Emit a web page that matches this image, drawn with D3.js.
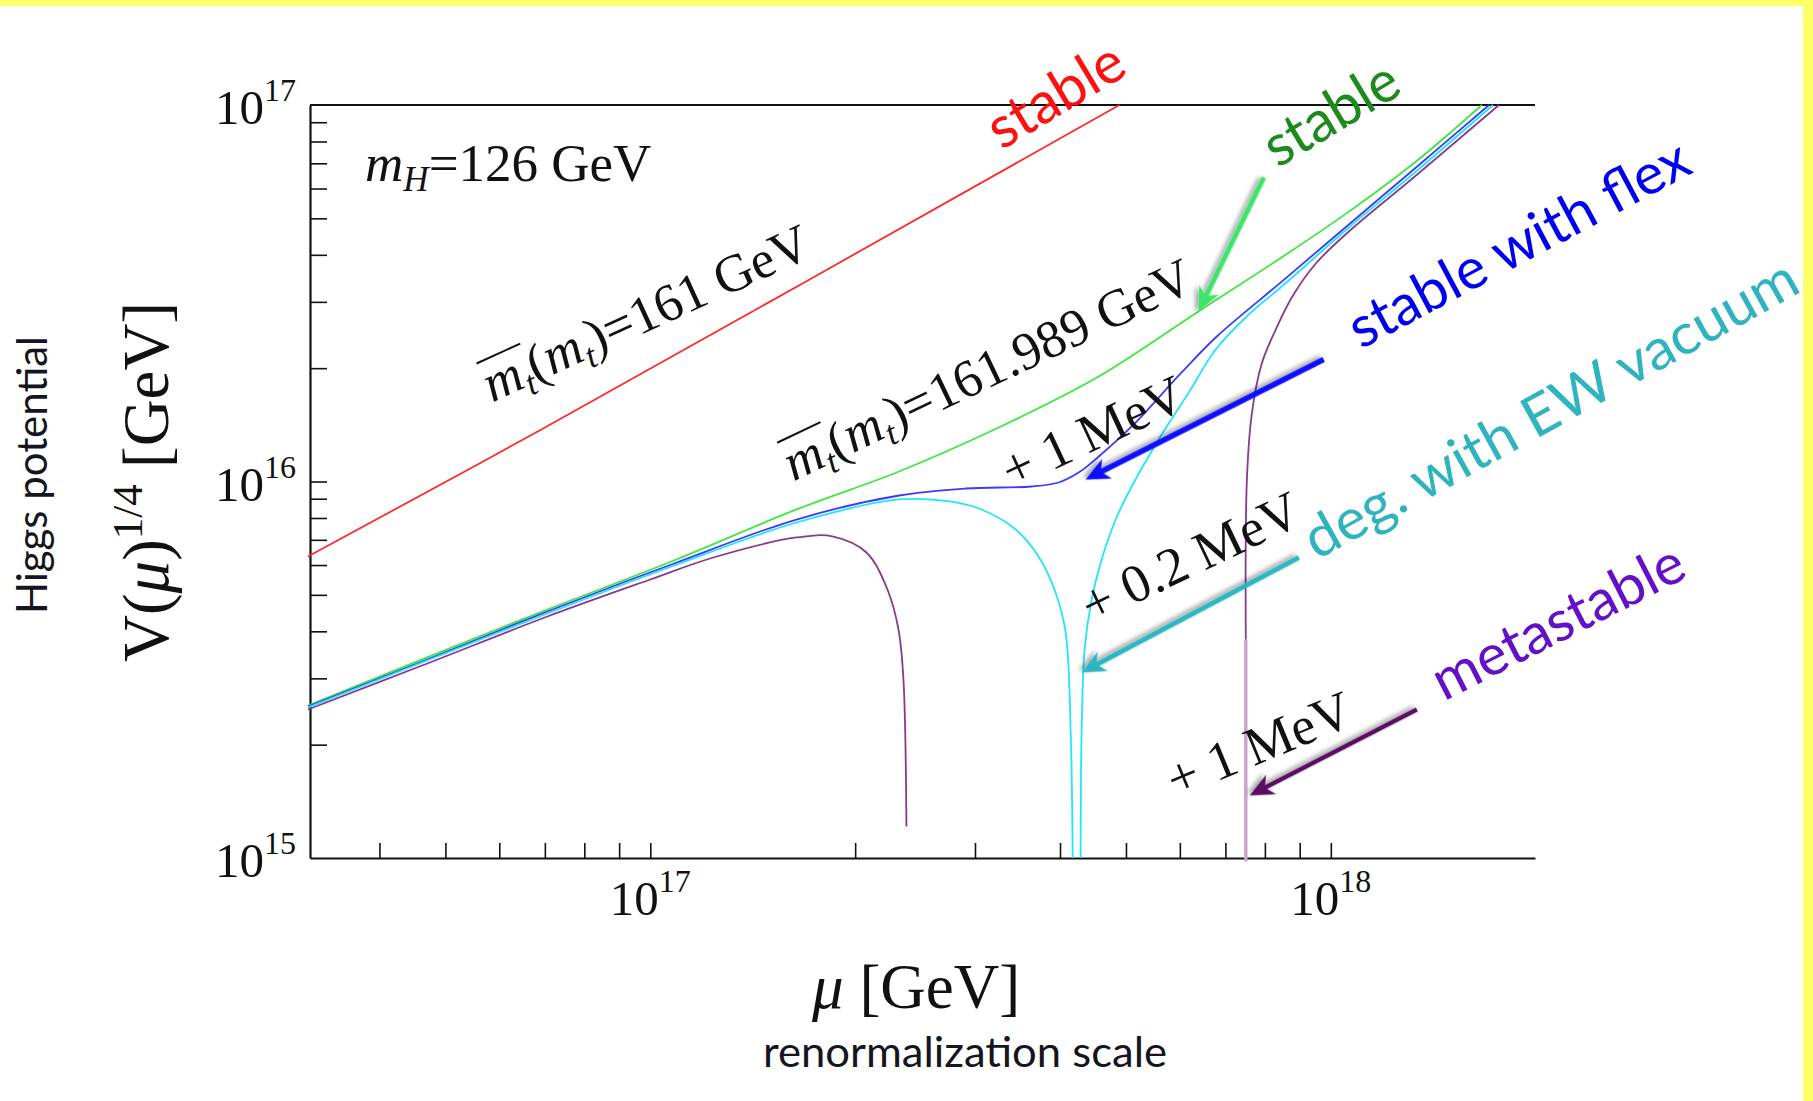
<!DOCTYPE html>
<html lang="en">
<head>
    <meta charset="UTF-8">
    <title>Higgs potential vs renormalization scale</title>
    <script src="https://d3js.org/d3.v7.min.js"></script>
    <style>
        body { margin: 0; background: #ffffff; }
        svg { display: block; }
    </style>
</head>
<body>
    <div id="myDiv"></div>
<script>
// ---- values: mu [GeV] and V(mu)^(1/4) [GeV] ----
const muTicks = [4e16, 5e16, 6e16, 7e16, 8e16, 9e16, 1e17, 2e17, 3e17, 4e17, 5e17, 6e17, 7e17, 8e17, 9e17, 1e18];
const muTickLabels = [1e17, 1e18];
const vTicks = [2e15, 3e15, 4e15, 5e15, 6e15, 7e15, 8e15, 9e15, 1e16,
                2e16, 3e16, 4e16, 5e16, 6e16, 7e16, 8e16, 9e16];
const vTickLabels = [1e15, 1e16, 1e17];

// mt = 161 GeV
const redMu = [3.14e16, 6.96e16, 4.89e17];
const redV  = [6.32e15, 1.383e16, 1.0e17];

// mt = 161.989 GeV
const greenMu = [3.14e16, 4.62e16, 7.06e16, 1.074e17, 1.64e17, 2.32e17, 3.25e17, 4.56e17, 6.39e17, 8.47e17, 1.063e18, 1.334e18, 1.667e18];
const greenV  = [2.54e15, 3.37e15, 4.57e15, 6.13e15, 8.43e15, 1.063e16, 1.391e16, 1.90e16, 2.83e16, 3.94e16, 5.21e16, 7.08e16, 1.0e17];

// + 1 MeV (flex)
const blueMu = [3.14e16, 4.62e16, 7.06e16, 1.074e17, 1.64e17, 2.32e17, 2.906e17, 3.634e17, 3.981e17, 4.26e17, 4.56e17, 5.098e17, 6.036e17, 6.774e17, 8.47e17, 1.063e18, 1.334e18, 1.708e18];
const blueV  = [2.526e15, 3.326e15, 4.516e15, 6.02e15, 7.925e15, 9.18e15, 9.58e15, 9.70e15, 9.94e15, 1.056e16, 1.165e16, 1.40e16, 1.948e16, 2.413e16, 3.396e16, 4.816e16, 6.823e16, 1.0e17];

// + 0.2 MeV (degenerate), two branches
const cyanLeftMu = [3.14e16, 4.62e16, 7.06e16, 1.074e17, 1.64e17, 2.32e17, 2.753e17, 3.068e17, 3.442e17, 3.72e17, 3.94e17, 4.077e17, 4.147e17, 4.175e17];
const cyanLeftV  = [2.51e15, 3.306e15, 4.46e15, 5.947e15, 7.782e15, 8.96e15, 8.85e15, 8.425e15, 7.457e15, 6.32e15, 5.072e15, 3.972e15, 2.154e15, 1.0e15];
const cyanRightMu = [4.289e17, 4.303e17, 4.347e17, 4.452e17, 4.605e17, 4.829e17, 5.098e17, 5.585e17, 6.183e17, 6.774e17, 7.575e17, 8.47e17, 1.063e18, 1.334e18, 1.731e18];
const cyanRightV  = [1.0e15, 2.154e15, 3.58e15, 4.86e15, 6.206e15, 7.925e15, 9.70e15, 1.293e16, 1.723e16, 2.242e16, 2.777e16, 3.295e16, 4.727e16, 6.66e16, 1.0e17];

// + 1 MeV (metastable), two branches
const purpleLeftMu = [3.14e16, 4.62e16, 7.06e16, 1.0e17, 1.238e17, 1.64e17, 1.858e17, 2.078e17, 2.231e17, 2.316e17, 2.355e17, 2.379e17];
const purpleLeftV  = [2.48e15, 3.245e15, 4.379e15, 5.492e15, 6.283e15, 7.101e15, 7.143e15, 6.478e15, 5.166e15, 4.045e15, 2.979e15, 1.213e15];
const purpleRightMu = [7.50e17, 7.525e17, 7.652e17, 7.916e17, 8.30e17, 8.762e17, 9.504e17, 1.063e18, 1.334e18, 1.766e18];
const purpleRightV  = [3.804e15, 9.94e15, 1.507e16, 2.058e16, 2.533e16, 3.082e16, 3.793e16, 4.613e16, 6.497e16, 1.0e17];
const purpleLowMu = [7.50e17, 7.50e17];
const purpleLowV  = [9.79e14, 3.804e15];

// annotation arrows [tail, tip] in data units
const arrowGreen  = [[7.97e17, 6.42e16], [6.39e17, 2.83e16]];
const arrowBlue   = [[9.76e17, 2.109e16], [4.362e17, 1.012e16]];
const arrowTeal   = [[8.974e17, 6.283e15], [4.303e17, 3.109e15]];
const arrowPurple = [[1.338e18, 2.48e15], [7.601e17, 1.466e15]];

const serif = "'Liberation Serif', 'Times New Roman', Times, serif";
const sans = "Lato, 'Open Sans', sans-serif";

const W = 1813, H = 1101;
const plot = {left: 310, right: 1535, top: 105, bottom: 858};

let svg = d3.select("#myDiv").append("svg")
    .attr("width", W)
    .attr("height", H);

// yellow slide border
svg.append("rect").attr("x", 0).attr("y", 0).attr("width", W).attr("height", 6).attr("fill", "#ffff66");
svg.append("rect").attr("x", 1803).attr("y", 0).attr("width", 10).attr("height", H).attr("fill", "#ffff66");

let defs = svg.append("defs");
defs.append("filter").attr("id", "shadow")
    .attr("x", "-20%").attr("y", "-20%").attr("width", "140%").attr("height", "140%")
    .append("feDropShadow")
    .attr("dx", 2).attr("dy", 3).attr("stdDeviation", 2)
    .attr("flood-color", "#000").attr("flood-opacity", 0.35);

let x = d3.scaleLog().domain([Math.pow(10, 16.5), Math.pow(10, 18.3)]).range([plot.left, plot.right]);
let y = d3.scaleLog().domain([1e15, 1e17]).range([plot.bottom, plot.top]);

// axes: inward ticks
svg.append("g")
    .attr("transform", "translate(0," + plot.bottom + ")")
    .call(d3.axisBottom(x).tickValues(muTicks).tickSize(-15).tickSizeOuter(0).tickFormat(""))
    .call(g => g.selectAll("line").attr("stroke", "#111").attr("stroke-width", 1.6))
    .call(g => g.select(".domain").attr("stroke", "#111").attr("stroke-width", 2.2));

svg.append("g")
    .attr("transform", "translate(" + plot.left + ",0)")
    .call(d3.axisLeft(y).tickValues(vTicks).tickSize(-17).tickSizeOuter(0).tickFormat(""))
    .call(g => g.selectAll("line").attr("stroke", "#111").attr("stroke-width", 1.6))
    .call(g => g.select(".domain").attr("stroke", "#111").attr("stroke-width", 2.2));

// top frame line
svg.append("line")
    .attr("x1", plot.left).attr("x2", plot.right)
    .attr("y1", y(1e17)).attr("y2", y(1e17))
    .attr("stroke", "#111").attr("stroke-width", 2.2);

// tick labels 10^n
function powLabel(sel, v) {
    const e = Math.round(Math.log10(v));
    sel.append("tspan").attr("font-size", 49).text("10");
    sel.append("tspan").attr("font-size", 32).attr("dy", -23).text(e);
}
vTickLabels.forEach(function (v) {
    let t = svg.append("text")
        .attr("x", plot.left - 14).attr("y", y(v) + 19)
        .attr("text-anchor", "end")
        .attr("font-family", serif).attr("fill", "#111");
    powLabel(t, v);
});
muTickLabels.forEach(function (v) {
    let t = svg.append("text")
        .attr("x", x(v)).attr("y", 915)
        .attr("text-anchor", "middle")
        .attr("font-family", serif).attr("fill", "#111");
    powLabel(t, v);
});

// curves
let line = d3.line()
    .x(d => x(d[0]))
    .y(d => y(d[1]))
    .curve(d3.curveCatmullRom.alpha(0.5));

function curve(mu, v, color, width) {
    svg.append("path")
        .datum(d3.zip(mu, v))
        .attr("d", line)
        .attr("fill", "none")
        .attr("stroke", color)
        .attr("stroke-width", width)
        .attr("stroke-linejoin", "round");
}
curve(purpleLowMu, purpleLowV, "#caa6cf", 3.5);
curve(greenMu, greenV, "#3ee83e", 1.8);
curve(blueMu, blueV, "#3b3bff", 1.8);
curve(cyanLeftMu, cyanLeftV, "#1ee6ff", 1.8);
curve(cyanRightMu, cyanRightV, "#1ee6ff", 1.8);
curve(purpleLeftMu, purpleLeftV, "#8a3a8e", 1.8);
curve(purpleRightMu, purpleRightV, "#8a3a8e", 1.8);
curve(redMu, redV, "#ff2a2a", 1.8);

// arrows
function arrow(a, color, w) {
    const x0 = x(a[0][0]), y0 = y(a[0][1]), x1 = x(a[1][0]), y1 = y(a[1][1]);
    const ang = Math.atan2(y1 - y0, x1 - x0) * 180 / Math.PI;
    const len = Math.hypot(x1 - x0, y1 - y0);
    let g = svg.append("g")
        .attr("transform", "translate(" + x0 + "," + y0 + ") rotate(" + ang + ")")
        .attr("filter", "url(#shadow)");
    g.append("line").attr("x1", 0).attr("y1", 0).attr("x2", len - 12).attr("y2", 0)
        .attr("stroke", color).attr("stroke-width", w);
    g.append("path")
        .attr("d", "M" + len + ",0 L" + (len - 24) + "," + (-11) + " L" + (len - 17) + ",0 L" + (len - 24) + ",11 Z")
        .attr("fill", color);
}
arrow(arrowGreen, "#3fe46c", 5);
arrow(arrowBlue, "#0a0aff", 5.5);
arrow(arrowTeal, "#2db5c2", 5);
arrow(arrowPurple, "#5a0a62", 4.5);

// rotated label helper, anchored in data units
function placed(pos, angle) {
    return svg.append("g")
        .attr("transform", "translate(" + x(pos[0]) + "," + y(pos[1]) + ") rotate(" + angle + ")");
}

function mtLabel(pos, angle, value) {
    let g = placed(pos, angle);
    let t = g.append("text").attr("font-family", serif).attr("font-size", 53).attr("fill", "#111");
    t.append("tspan").attr("font-style", "italic").text("m");
    t.append("tspan").attr("font-style", "italic").attr("font-size", 35).attr("dy", 10).text("t");
    t.append("tspan").attr("dy", -10).text("(");
    t.append("tspan").attr("font-style", "italic").text("m");
    t.append("tspan").attr("font-style", "italic").attr("font-size", 35).attr("dy", 10).text("t");
    t.append("tspan").attr("dy", -10).text(")=" + value + " GeV");
    const w = t.node().getSubStringLength(0, 2);
    g.append("line").attr("x1", 2).attr("x2", w + 2).attr("y1", -42).attr("y2", -42)
        .attr("stroke", "#111").attr("stroke-width", 2);
}

function serifNote(pos, angle, txt) {
    placed(pos, angle).append("text")
        .attr("font-family", serif).attr("font-size", 54).attr("fill", "#111")
        .attr("xml:space", "preserve")
        .text(txt);
}

function sansNote(pos, angle, txt, color, len, size) {
    placed(pos, angle).append("text")
        .attr("font-family", sans).attr("font-size", size).attr("fill", color)
        .attr("textLength", len).attr("lengthAdjust", "spacingAndGlyphs")
        .text(txt);
}

// m_H label
let mh = svg.append("text")
    .attr("x", x(3.81e16)).attr("y", y(6.30e16))
    .attr("font-family", serif).attr("font-size", 53).attr("fill", "#111");
mh.append("tspan").attr("font-style", "italic").text("m");
mh.append("tspan").attr("font-style", "italic").attr("font-size", 35).attr("dy", 10).text("H");
mh.append("tspan").attr("dy", -10).text("=126 GeV");

mtLabel([5.857e16, 1.621e16], -24.5, "161");
mtLabel([1.623e17, 1.0e16], -25.5, "161.989");

serifNote([3.396e17, 9.52e15], -25, "+ 1 MeV");
serifNote([4.452e17, 4.171e15], -25.5, "+ 0.2 MeV");
serifNote([5.915e17, 1.439e15], -22.5, "+ 1 MeV");

sansNote([3.282e17, 7.57e16], -31, "stable", "#ff1010", 150, 58);
sansNote([8.357e17, 6.78e16], -31, "stable", "#1c8a1c", 148, 58);
sansNote([1.107e18, 2.242e16], -28, "stable with flex", "#0000f0", 378, 57);
sansNote([9.537e17, 6.169e15], -29, "deg. with EW vacuum", "#2fb3bf", 556, 57);
sansNote([1.466e18, 2.604e15], -27, "metastable", "#6410c8", 276, 57);

// axis titles
let xt = svg.append("text")
    .attr("x", 812).attr("y", 1008)
    .attr("font-family", serif).attr("font-size", 63).attr("fill", "#111");
xt.append("tspan").attr("font-style", "italic").text("\u03bc");
xt.append("tspan").text(" [GeV]");

svg.append("text")
    .attr("x", 763).attr("y", 1067)
    .attr("font-family", sans).attr("font-size", 42).attr("fill", "#151520")
    .attr("textLength", 404).attr("lengthAdjust", "spacingAndGlyphs")
    .text("renormalization scale");

let yt = svg.append("text")
    .attr("transform", "translate(168,482) rotate(-90)")
    .attr("text-anchor", "middle")
    .attr("font-family", serif).attr("font-size", 65).attr("fill", "#111");
yt.append("tspan").text("V(");
yt.append("tspan").attr("font-style", "italic").text("\u03bc");
yt.append("tspan").text(")");
yt.append("tspan").attr("font-size", 43).attr("dy", -26).text("1/4");
yt.append("tspan").attr("dy", 26).text(" [GeV]");

svg.append("text")
    .attr("transform", "translate(47,475) rotate(-90)")
    .attr("text-anchor", "middle")
    .attr("font-family", sans).attr("font-size", 42).attr("fill", "#151520")
    .attr("textLength", 278).attr("lengthAdjust", "spacingAndGlyphs")
    .text("Higgs potential");
</script>
</body>
</html>
